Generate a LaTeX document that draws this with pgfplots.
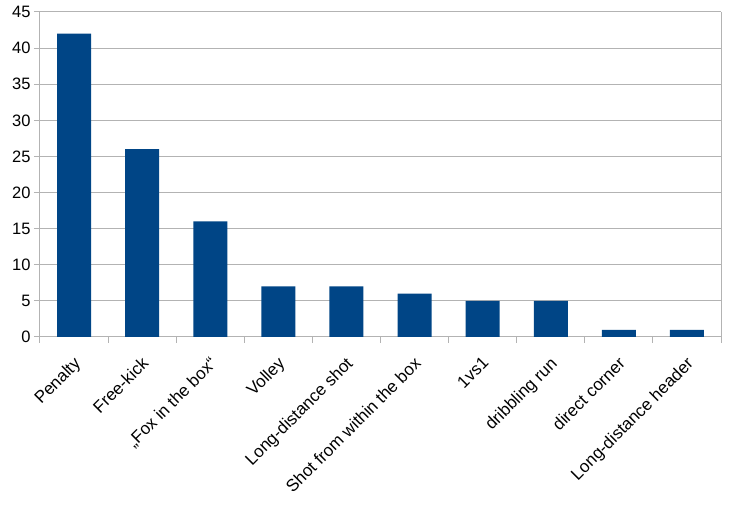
\documentclass[border=0pt]{standalone}
\usepackage{pgfplots}
\pgfplotsset{compat=1.18}
\usepackage{fontspec}
\setmainfont{Liberation Sans}
\usetikzlibrary{calc}
\definecolor{barblue}{HTML}{004586}
\definecolor{gridgray}{HTML}{B3B3B3}

\begin{document}
\begin{tikzpicture}
\begin{axis}[
  scale only axis,
  width=681pt, height=325pt,
  ymin=0, ymax=45, ytick={0,5,...,45},
  xmin=-0.5, xmax=9.5,
  xtick={0,...,9},
  xticklabels={Penalty,Free-kick,„Fox in the box“,Volley,Long-distance shot,Shot from within the box,1vs1,dribbling run,direct corner,Long-distance header},
  minor xtick={-0.5,0.5,...,9.5},
  x tick label style={rotate=45, anchor=north east, inner sep=1pt, xshift=-9pt, yshift=-7pt, font=\fontsize{17}{17}\selectfont},
  y tick label style={font=\fontsize{16.5}{16.5}\selectfont},
  /pgf/number format/assume math mode=true,
  major x tick style={draw=none},
  minor x tick style={draw=gridgray, line width=1pt},
  y tick style={draw=gridgray, line width=1pt},
  tick align=outside,
  major tick length=6pt, minor tick length=6pt,
  tick pos=left,
  ymajorgrids,
  grid style={draw=gridgray, line width=1pt},
  axis line style={draw=gridgray, line width=1pt},
  axis x line*=bottom,
  ybar, bar width=34pt,
  ]
  \addplot[fill=barblue, draw=none] coordinates {
    (0,42) (1,26) (2,16) (3,7) (4,7) (5,6) (6,5) (7,5) (8,1) (9,1)
  };
  \draw[gridgray, line width=1pt] (rel axis cs:1,0) -- (rel axis cs:1,1);
  \draw[gridgray, line width=1pt] (rel axis cs:0,0) -- (rel axis cs:0,1);
\end{axis}
\pgfresetboundingbox
\path ($(current axis.south west)+(-40pt,-178pt)$) rectangle ($(current axis.north east)+(9pt,12pt)$);
\end{tikzpicture}
\end{document}
